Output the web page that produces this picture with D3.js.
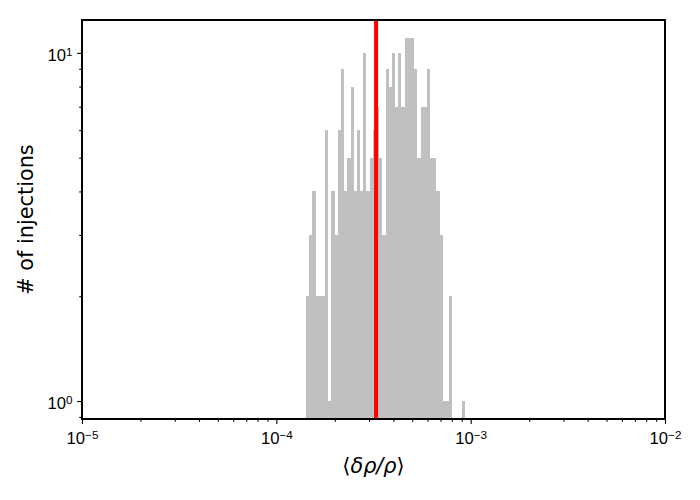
<!DOCTYPE html>
<html>
<head>
<meta charset="utf-8">
<script src="https://cdn.jsdelivr.net/npm/d3@7"></script>
<style>
  body { margin: 0; background: #fff; }
  svg { font-family: "DejaVu Sans", sans-serif; }
</style>
</head>
<body>
<svg id="chart" width="700" height="500"></svg>
<script>
// histogram counts per log-spaced bin
const counts = [2, 3, 4, 2, 2, 2, 6, 1, 4, 3,
                6, 9, 4, 5, 8, 4, 6, 4, 10, 4,
                5, 6, 7, 5, 3, 9, 8, 10, 7, 10,
                7, 11, 11, 11, 9, 5, 7, 7, 9, 5,
                5, 4, 3, 1, 1, 2, 0, 0, 0, 1];
const binStart = 1.422e-4;
const binEnd = 9.36e-4;
const threshold = 3.26e-4;

const xMajor = [1e-5, 1e-4, 1e-3, 1e-2];
const xMajorExp = ["\u22125", "\u22124", "\u22123", "\u22122"];
const yMajor = [1, 10];
const yMajorExp = ["0", "1"];

const margin = { top: 20, right: 35, bottom: 81, left: 82 },
      width = 700 - margin.left - margin.right,
      height = 500 - margin.top - margin.bottom;

const svg = d3.select("#chart")
    .append("g")
    .attr("transform", `translate(${margin.left},${margin.top})`);

const x = d3.scaleLog().domain([1e-5, 1e-2]).range([0, width]);
const y = d3.scaleLog().domain([0.888, 12.43]).range([height, 0]);

// bin edges, equal steps in log space
const lo = Math.log10(binStart), step = (Math.log10(binEnd) - lo) / counts.length;
const bins = counts.map((c, i) => ({
    x0: Math.pow(10, lo + i * step),
    x1: Math.pow(10, lo + (i + 1) * step),
    count: c
}));

svg.selectAll(".bar")
   .data(bins.filter(d => d.count > 0))
   .enter().append("rect")
   .attr("class", "bar")
   .attr("x", d => x(d.x0))
   .attr("width", d => x(d.x1) - x(d.x0))
   .attr("y", d => y(d.count))
   .attr("height", d => height - y(d.count))
   .attr("shape-rendering", "crispEdges")
   .style("fill", "#c0c0c0");

svg.append("line")
   .attr("x1", x(threshold)).attr("x2", x(threshold))
   .attr("y1", 0).attr("y2", height)
   .style("stroke", "#ff0000")
   .style("stroke-width", 4);

// minor ticks
const xMinor = x.ticks().filter(v => !xMajor.some(m => Math.abs(v / m - 1) < 1e-6));
const yMinor = y.ticks().filter(v => !yMajor.some(m => Math.abs(v / m - 1) < 1e-6));

svg.append("g")
   .attr("transform", `translate(0,${height})`)
   .call(d3.axisBottom(x).tickValues(xMinor).tickSize(2.8).tickFormat(""))
   .call(g => g.select(".domain").remove());
svg.append("g")
   .call(d3.axisLeft(y).tickValues(yMinor).tickSize(2.8).tickFormat(""))
   .call(g => g.select(".domain").remove());

const xAxis = svg.append("g")
   .attr("transform", `translate(0,${height})`)
   .call(d3.axisBottom(x).tickValues(xMajor).tickSize(4.9).tickFormat(""))
   .call(g => g.select(".domain").remove());
const yAxis = svg.append("g")
   .call(d3.axisLeft(y).tickValues(yMajor).tickSize(4.9).tickFormat(""))
   .call(g => g.select(".domain").remove());

svg.selectAll(".tick line").style("stroke", "#000").style("stroke-width", 1.1);

function powLabel(sel, exps) {
    sel.each(function(d, i) {
        const t = d3.select(this).select("text")
            .attr("fill", "#000")
            .style("font-size", "16.67px")
            .text(null);
        t.append("tspan").text("10");
        t.append("tspan").attr("dy", "-0.42em").style("font-size", "11.7px").text(exps[i]);
    });
}

xAxis.selectAll(".tick").call(powLabel, xMajorExp);
xAxis.selectAll(".tick text").attr("y", 25).attr("dy", null).attr("text-anchor", "middle");
yAxis.selectAll(".tick").call(powLabel, yMajorExp);
yAxis.selectAll(".tick text").attr("x", -9.5).attr("dy", null).attr("y", 7.5).attr("text-anchor", "end");

// frame
svg.append("rect")
   .attr("width", width).attr("height", height)
   .style("fill", "none")
   .style("stroke", "#000")
   .style("stroke-width", 2);

svg.append("text")
   .attr("transform", `translate(${33 - margin.left},${height / 2}) rotate(-90)`)
   .attr("text-anchor", "middle")
   .style("font-size", "20.8px")
   .text("# of injections");

const xl = svg.append("text")
   .attr("x", width / 2)
   .attr("y", 473 - margin.top)
   .attr("text-anchor", "middle")
   .style("font-size", "20.8px");
xl.append("tspan").text("\u27E8");
xl.append("tspan").style("font-style", "italic").text("\u03B4\u03C1/\u03C1");
xl.append("tspan").text("\u27E9");
</script>
</body>
</html>
